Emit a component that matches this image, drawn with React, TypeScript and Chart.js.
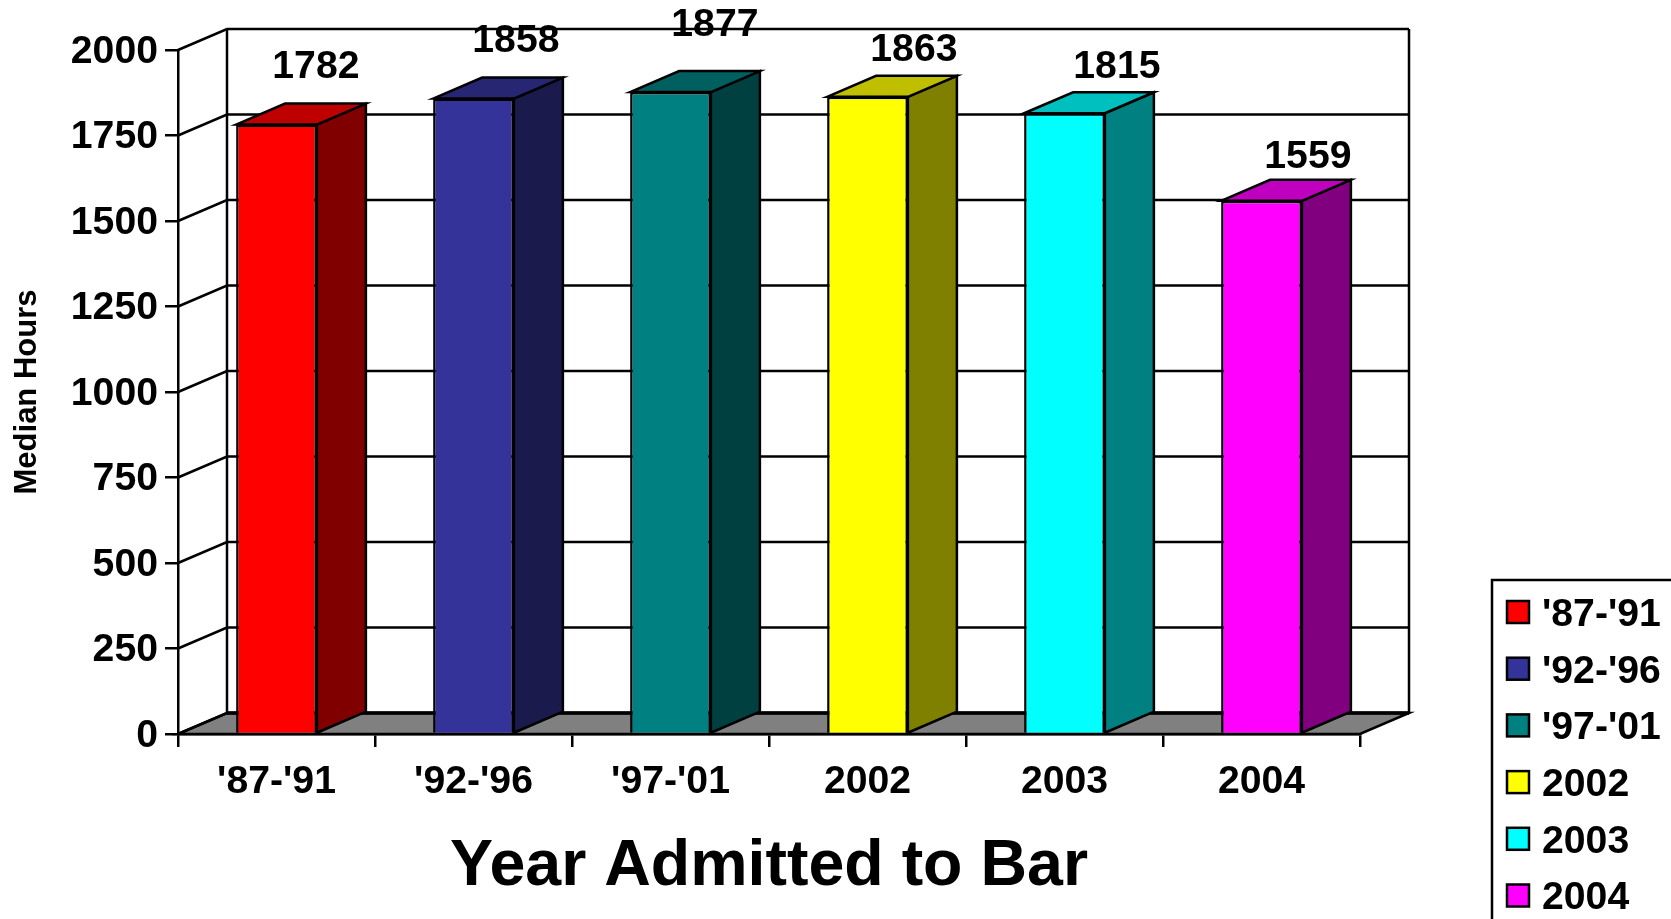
import React, { useEffect, useRef } from "react";
import { Chart, registerables } from "chart.js";

Chart.register(...registerables);

const categories = ["'87-'91", "'92-'96", "'97-'01", "2002", "2003", "2004"];
const medianHours = [1782, 1858, 1877, 1863, 1815, 1559];
const frontColors = ["#FF0000", "#333399", "#008080", "#FFFF00", "#00FFFF", "#FF00FF"];
const sideColors = ["#800000", "#1A1A4D", "#004040", "#808000", "#008080", "#800080"];
const topColors = ["#BF0000", "#262673", "#006060", "#BFBF00", "#00BFBF", "#BF00BF"];
const labelLift = [57, 57, 67, 47, 46, 44];
const labelShift = [-1, 2, 4, 6, 12, 6];

const FONT = '"Liberation Sans", Arial, sans-serif';
const TEXT_SIZE = 39.2;
const DEPTH_X = 49;
const DEPTH_Y = 21;
const LINE = 2.5;

const depthPlugin = {
  id: "depth3d",
  beforeDatasetsDraw(chart: any) {
    const { ctx, chartArea: a, scales } = chart;
    const y = scales.y;
    const backLeft = a.left + DEPTH_X;
    const backRight = a.right + DEPTH_X;
    const zero = y.getPixelForValue(0);
    ctx.save();
    ctx.lineWidth = LINE;
    ctx.strokeStyle = "#000";
    ctx.lineJoin = "miter";
    // floor
    ctx.fillStyle = "#808080";
    ctx.beginPath();
    ctx.moveTo(a.left, zero);
    ctx.lineTo(backLeft, zero - DEPTH_Y);
    ctx.lineTo(backRight, zero - DEPTH_Y);
    ctx.lineTo(a.right, zero);
    ctx.closePath();
    ctx.fill();
    ctx.stroke();
    // walls and grid
    y.ticks.forEach((t: any) => {
      const py = y.getPixelForValue(t.value);
      ctx.beginPath();
      ctx.moveTo(a.left, py);
      ctx.lineTo(backLeft, py - DEPTH_Y);
      ctx.lineTo(backRight, py - DEPTH_Y);
      ctx.stroke();
    });
    const top = y.getPixelForValue(y.max) - DEPTH_Y;
    ctx.beginPath();
    ctx.moveTo(backLeft, top);
    ctx.lineTo(backLeft, zero - DEPTH_Y);
    ctx.moveTo(backRight, top);
    ctx.lineTo(backRight, zero - DEPTH_Y);
    ctx.stroke();
    ctx.lineWidth = 3.5;
    ctx.beginPath();
    ctx.moveTo(backLeft, zero - DEPTH_Y);
    ctx.lineTo(backRight, zero - DEPTH_Y);
    ctx.stroke();
    ctx.lineWidth = LINE;
    // side and top faces of the bars
    chart.getDatasetMeta(0).data.forEach((bar: any, i: number) => {
      const hw = bar.width / 2;
      const l = bar.x - hw;
      const r = bar.x + hw;
      ctx.fillStyle = sideColors[i];
      ctx.beginPath();
      ctx.moveTo(r, bar.y);
      ctx.lineTo(r + DEPTH_X, bar.y - DEPTH_Y);
      ctx.lineTo(r + DEPTH_X, bar.base - DEPTH_Y);
      ctx.lineTo(r, bar.base);
      ctx.closePath();
      ctx.fill();
      ctx.stroke();
      ctx.fillStyle = topColors[i];
      ctx.beginPath();
      ctx.moveTo(l, bar.y);
      ctx.lineTo(l + DEPTH_X, bar.y - DEPTH_Y);
      ctx.lineTo(r + DEPTH_X, bar.y - DEPTH_Y);
      ctx.lineTo(r, bar.y);
      ctx.closePath();
      ctx.fill();
      ctx.stroke();
    });
    ctx.restore();
  },
  afterDatasetsDraw(chart: any) {
    const { ctx } = chart;
    ctx.save();
    ctx.fillStyle = "#000";
    ctx.font = `bold ${TEXT_SIZE}px ${FONT}`;
    ctx.textAlign = "center";
    ctx.textBaseline = "middle";
    chart.getDatasetMeta(0).data.forEach((bar: any, i: number) => {
      ctx.fillText(String(medianHours[i]), bar.x + bar.width / 2 + labelShift[i], bar.y - labelLift[i]);
    });
    ctx.restore();
  },
  afterDraw(chart: any) {
    const { ctx } = chart;
    const boxLeft = 1492;
    const boxTop = 580;
    ctx.save();
    ctx.lineWidth = 2.5;
    ctx.strokeStyle = "#000";
    ctx.fillStyle = "#fff";
    ctx.beginPath();
    ctx.rect(boxLeft, boxTop, 300, 500);
    ctx.fill();
    ctx.stroke();
    ctx.font = `bold ${TEXT_SIZE}px ${FONT}`;
    ctx.textAlign = "left";
    ctx.textBaseline = "middle";
    categories.forEach((c, i) => {
      const cy = 612 + i * 56.7;
      ctx.fillStyle = frontColors[i];
      ctx.fillRect(1507, cy - 11, 22, 22);
      ctx.lineWidth = 2.5;
      ctx.strokeRect(1507, cy - 11, 22, 22);
      ctx.fillStyle = "#000";
      ctx.fillText(c, 1542, cy + 3);
    });
    ctx.restore();
  },
};

export default function App() {
  const ref = useRef<HTMLCanvasElement | null>(null);
  useEffect(() => {
    const chart = new Chart(ref.current as HTMLCanvasElement, {
      type: "bar",
      data: {
        labels: categories,
        datasets: [
          {
            label: "Median Hours",
            data: medianHours,
            backgroundColor: frontColors,
            borderColor: "#000",
            borderWidth: 2.5,
            barPercentage: 0.41,
            categoryPercentage: 1,
          },
        ],
      },
      options: {
        responsive: false,
        animation: false,
        layout: { padding: { top: 50, right: 311, left: 0, bottom: 0 } },
        plugins: { legend: { display: false }, tooltip: { enabled: false }, title: { display: false } },
        scales: {
          x: {
            grid: { offset: true, drawOnChartArea: false, color: "#000", lineWidth: 2.5, tickLength: 13 },
            border: { color: "#000", width: 2.5 },
            ticks: {
              color: "#000",
              padding: 12,
              maxRotation: 0,
              font: { family: FONT, size: TEXT_SIZE, weight: "bold" },
            },
            title: {
              display: true,
              text: "Year Admitted to Bar",
              color: "#000",
              font: { family: FONT, size: 64.5, weight: "bold" },
              padding: { top: 0, bottom: 13 },
            },
            afterFit(scale: any) {
              scale.height = 185;
            },
          },
          y: {
            min: 0,
            max: 2000,
            grid: { drawOnChartArea: false, color: "#000", lineWidth: 2.5, tickLength: 13 },
            border: { color: "#000", width: 2.5 },
            ticks: {
              stepSize: 250,
              color: "#000",
              padding: 7,
              labelOffset: 2,
              callback: (v: any) => String(v),
              font: { family: FONT, size: TEXT_SIZE, weight: "bold" },
            },
            title: {
              display: true,
              text: "Median Hours",
              color: "#000",
              font: { family: FONT, size: 31, weight: "bold" },
              padding: { top: 9, bottom: 0 },
            },
            afterFit(scale: any) {
              scale.width = 178;
            },
          },
        },
      },
      plugins: [depthPlugin],
    } as any);
    return () => chart.destroy();
  }, []);
  return (
    <div style={{ position: "fixed", left: 0, top: 0, width: 1671, height: 919, overflow: "hidden", background: "#fff" }}>
      <canvas ref={ref} width={1671} height={919} style={{ display: "block" }} />
    </div>
  );
}
